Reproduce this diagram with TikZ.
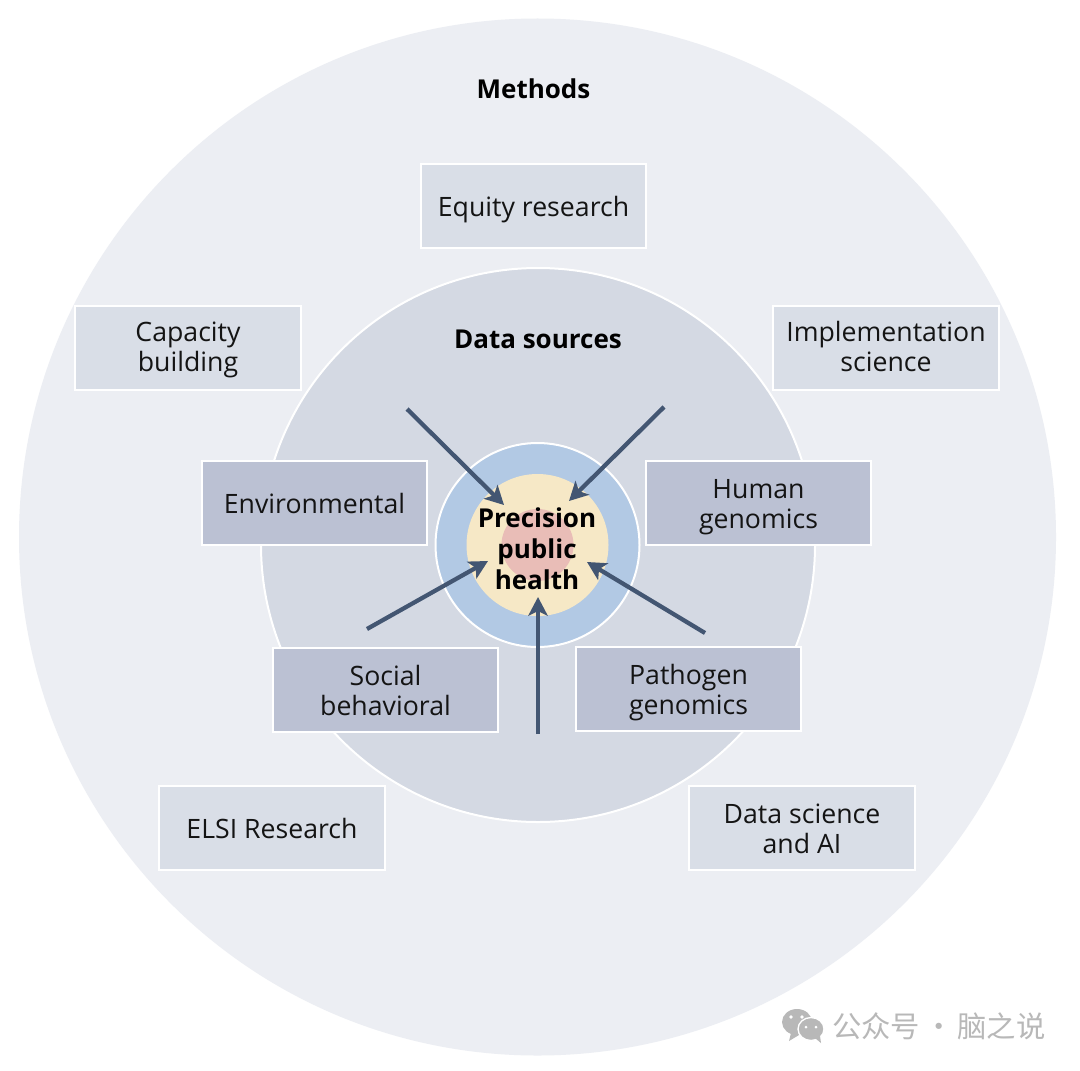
\documentclass[tikz,border=0pt]{standalone}
\usepackage{fontspec}
\setmainfont{Open Sans}
\newfontfamily\cjkfont{Noto Sans CJK SC}
\usetikzlibrary{arrows.meta}
\definecolor{bgouter}{HTML}{ECEEF3}
\definecolor{bgmid}{HTML}{D4D9E3}
\definecolor{boxouter}{HTML}{D9DEE7}
\definecolor{boxinner}{HTML}{BBC1D3}
\definecolor{ringblue}{HTML}{B2C9E4}
\definecolor{ringyellow}{HTML}{F6E8C6}
\definecolor{ringred}{HTML}{E9BDB7}
\definecolor{arrowcol}{HTML}{435672}
\definecolor{wmgray}{HTML}{B8B8B8}
\newcommand{\lt}{\rule{0pt}{21pt}}
\newcommand{\ltb}{\rule{0pt}{17.5pt}}
\newcommand{\lb}{\rule[-5.5pt]{0pt}{5.5pt}}
\tikzset{
  x=0.75pt,y=-0.75pt,
  lab/.style={font=\fontsize{20}{22.5}\selectfont,text=black!92,align=center},
  head/.style={font=\fontsize{19.5}{23}\selectfont\bfseries,text=black,align=center},
  obox/.style={lab,draw=white,line width=1.5pt,fill=boxouter,minimum width=169pt,minimum height=63pt,inner sep=0pt},
  ibox/.style={obox,fill=boxinner},
  flow/.style={draw=arrowcol,line width=3.2pt,-{Stealth[length=14pt,width=14.5pt,inset=3.5pt]}},
  wm/.style={font=\cjkfont\fontsize{22}{22}\selectfont,text=wmgray,inner sep=0pt}
}
\begin{document}
\begin{tikzpicture}
\useasboundingbox (0,0) rectangle (1080,1070);
\fill[white] (0,0) rectangle (1080,1070);
\fill[bgouter] (537.5,537) circle[radius=518.5];
\draw[white,line width=1.5pt,fill=bgmid] (538,545) circle[radius=277];
\draw[white,line width=1.5pt,fill=ringblue] (537.5,545) circle[radius=102];
\fill[ringyellow] (537.5,545) circle[radius=71];
\fill[ringred] (537.5,545) circle[radius=36];

\node[head] (methods) at (533.5,89) {Methods};
\node[head] (sources) at (538,339) {Data sources};

\node[obox] (equity) at (533.5,206) {\lt\lb Equity research};
\node[obox] (capacity) at (188,348) {\ltb Capacity\\\lb building};
\node[obox] (impl) at (886,348) {\ltb Implementation\\\lb science};
\node[obox] (elsi) at (272,828) {\lt\lb ELSI Research};
\node[obox] (dsai) at (802,828) {\lt Data science\\\lb and AI};
\node[ibox] (env) at (314.5,503) {\lt\lb Environmental};
\node[ibox] (human) at (758.5,503) {\lt Human\\\lb genomics};
\node[ibox] (social) at (385.5,690) {\lt Social\\\lb behavioral};
\node[ibox] (patho) at (688.5,689) {\lt Pathogen\\\lb genomics};

\coordinate (a1) at (407,409); \coordinate (t1) at (504,505);
\coordinate (a2) at (664,407); \coordinate (t2) at (569,501);
\coordinate (a3) at (367,629); \coordinate (t3) at (488,561);
\coordinate (a4) at (705,633); \coordinate (t4) at (587,562);
\coordinate (a5) at (538,734); \coordinate (t5) at (538,597);
\draw[flow] (a1) -- (t1);
\draw[flow] (a2) -- (t2);
\draw[flow] (a3) -- (t3);
\draw[flow] (a4) -- (t4);
\draw[flow] (a5) -- (t5);

\node[head,font=\fontsize{19.5}{23.2}\selectfont\bfseries] (pph) at (537,549) {Precision\\public\\health};

% watermark
\fill[wmgray] (797,1022) ellipse[x radius=15,y radius=13];
\fill[wmgray] (791,1033) -- (789,1041) -- (799,1035) -- cycle;
\draw[white,line width=1pt,fill=wmgray] (811,1029) ellipse[x radius=13,y radius=11.5];
\fill[wmgray] (815,1038) -- (821,1043) -- (820,1036) -- cycle;
\fill[white] (791,1017) circle[radius=1.8] (802,1017) circle[radius=1.8] (806,1027) circle[radius=1.5] (816,1027) circle[radius=1.5];
\node[wm,anchor=west] (wmtext) at (832,1026) {公众号\hspace{3pt}·\hspace{3pt}脑之说};
\end{tikzpicture}
\end{document}
